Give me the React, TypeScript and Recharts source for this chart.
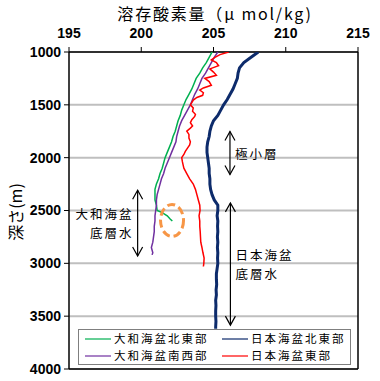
import React from 'react';
import { CartesianGrid, ReferenceDot, ReferenceLine, Scatter, ScatterChart, XAxis, YAxis } from 'recharts';

// 溶存酸素量の鉛直プロファイル (値は図から読み取り)
const depthGreen = [
    1000, 1050, 1100, 1150, 1200, 1250, 1300, 1350, 1400, 1450, 1500, 1550, 1600, 1650, 1700, 1750,
    1800, 1850, 1900, 1950, 2000, 2050, 2100, 2150, 2200, 2250, 2300, 2350, 2400, 2450, 2500, 2520,
    2550, 2580, 2600,
];
const valueGreen = [
    204.9, 204.7, 204.5, 204.25, 204.05, 203.8, 203.65, 203.5, 203.3, 203.1, 202.95, 202.8, 202.7,
    202.55, 202.45, 202.35, 202.2, 202.1, 201.95, 201.8, 201.65, 201.55, 201.45, 201.3, 201.2, 201.05,
    200.95, 200.95, 200.95, 201.05, 201.1, 201.45, 201.8, 202.0, 202.15,
];

const depthPurple = [
    1000, 1050, 1100, 1150, 1200, 1250, 1300, 1350, 1400, 1450, 1500, 1550, 1600, 1650, 1700, 1750,
    1800, 1850, 1900, 1950, 2000, 2050, 2100, 2150, 2200, 2250, 2300, 2350, 2400, 2450, 2500, 2550,
    2600, 2650, 2700, 2750, 2800, 2850, 2900, 2920,
];
const valuePurple = [
    205.3, 205.05, 204.85, 204.65, 204.45, 204.2, 204.05, 203.9, 203.7, 203.55, 203.4, 203.2, 203.0,
    202.8, 202.65, 202.55, 202.45, 202.4, 202.25, 202.1, 201.95, 201.8, 201.65, 201.55, 201.4, 201.3,
    201.2, 201.1, 201.05, 201.05, 201.0, 200.95, 200.95, 200.9, 200.9, 200.85, 200.8, 200.7, 200.8,
    200.75,
];

const depthRed = [
    1000, 1025, 1050, 1075, 1100, 1130, 1160, 1190, 1220, 1250, 1280, 1315, 1340, 1360, 1385, 1410,
    1430, 1455, 1480, 1500, 1530, 1560, 1590, 1610, 1640, 1670, 1700, 1720, 1750, 1780, 1815, 1850,
    1880, 1910, 1940, 1970, 2000, 2040, 2070, 2100, 2150, 2200, 2250, 2300, 2350, 2400, 2450, 2500,
    2550, 2600, 2650, 2700, 2750, 2800, 2850, 2900, 2950, 3000, 3030,
];
const valueRed = [
    206.05, 205.45, 205.1, 204.85, 205.2, 205.35, 204.75, 205.0, 205.2, 204.4, 204.7, 204.85, 204.3,
    204.05, 204.3, 204.25, 203.85, 203.6, 203.5, 203.4, 203.6, 203.55, 203.75, 203.7, 203.5, 203.4,
    203.55, 203.4, 203.15, 203.3, 203.3, 203.4, 203.35, 203.2, 203.05, 202.95, 202.8, 202.85, 202.9,
    202.95, 203.15, 203.35, 203.6, 203.75, 203.85, 203.95, 204.05, 204.07, 204.0, 204.05, 204.05,
    204.08, 204.1, 204.12, 204.2, 204.27, 204.35, 204.33, 204.3,
];

const depthNavy = [
    1000, 1050, 1100, 1150, 1200, 1250, 1300, 1350, 1400, 1450, 1500, 1550, 1600, 1650, 1700, 1750,
    1800, 1850, 1900, 1950, 2000, 2050, 2100, 2150, 2200, 2250, 2300, 2350, 2400, 2450, 2500, 2550,
    2600, 2650, 2700, 2750, 2800, 2850, 2900, 2950, 3000, 3050, 3100, 3150, 3200, 3250, 3300, 3350,
    3400, 3450, 3500, 3550, 3600, 3620,
];
const valueNavy = [
    208.1, 207.6, 207.1, 206.8, 206.7, 206.65, 206.5, 206.35, 206.15, 205.95, 205.7, 205.5, 205.3,
    205.0, 204.85, 204.75, 204.7, 204.6, 204.55, 204.55, 204.6, 204.65, 204.7, 204.7, 204.75, 204.75,
    204.8, 204.9, 205.05, 205.3, 205.3, 205.25, 205.3, 205.28, 205.3, 205.27, 205.3, 205.27, 205.3,
    205.28, 205.3, 205.25, 205.2, 205.2, 205.22, 205.18, 205.2, 205.15, 205.17, 205.15, 205.15,
    205.17, 205.15, 205.15,
];

const xTicks = [195, 200, 205, 210, 215];
const yTicks = [1000, 1500, 2000, 2500, 3000, 3500, 4000];

const series = [
    { name: '大和海盆北東部', color: '#00b050', width: 1.5, depths: depthGreen, values: valueGreen },
    { name: '大和海盆南西部', color: '#7030a0', width: 1.5, depths: depthPurple, values: valuePurple },
    { name: '日本海盆東部', color: '#ff0000', width: 1.5, depths: depthRed, values: valueRed },
    { name: '日本海盆北東部', color: '#0d2b6b', width: 3, depths: depthNavy, values: valueNavy },
];

const legendOrder = ['大和海盆北東部', '日本海盆北東部', '大和海盆南西部', '日本海盆東部'];

const cjk = '"Noto Sans CJK JP", "Noto Sans", sans-serif';
const tickStyle = { fontFamily: '"Liberation Sans", Arial, sans-serif', fontSize: 14, fontWeight: 700, fill: '#000' };

const emptyShape = () => <g />;

function ArrowShape(props: any) {
    const { x1, y1, y2, labels, side } = props;
    const x = x1;
    const mid = (y1 + y2) / 2;
    const tx = side === 'right' ? x + 5 : x - 4;
    const offsets = labels.length === 1 ? [0] : [-9.3, 9.3];
    return (
        <g>
            <line x1={x} y1={y1} x2={x} y2={y2} stroke="#000" strokeWidth={1.2} />
            <polyline points={`${x - 5},${y1 + 9} ${x},${y1} ${x + 5},${y1 + 9}`} fill="none" stroke="#000" strokeWidth={1.2} />
            <polyline points={`${x - 5},${y2 - 9} ${x},${y2} ${x + 5},${y2 - 9}`} fill="none" stroke="#000" strokeWidth={1.2} />
            {labels.map((t: string, i: number) => (
                <text
                    key={t}
                    x={tx}
                    y={mid + offsets[i]}
                    textAnchor={side === 'right' ? 'start' : 'end'}
                    dominantBaseline="central"
                    fontFamily={cjk}
                    fontSize={12.5}
                    letterSpacing={2}
                    fill="#000"
                >
                    {t}
                </text>
            ))}
        </g>
    );
}

function EllipseShape(props: any) {
    const { cx, cy } = props;
    return <ellipse cx={cx} cy={cy} rx={11.5} ry={16} fill="none" stroke="#f79646" strokeWidth={3} strokeDasharray="8 4" />;
}

export default function App() {
    return (
        <div style={{ position: 'absolute', left: 0, top: 0, width: 380, height: 381, background: '#fff' }}>
            <div
                style={{
                    position: 'absolute',
                    left: 105,
                    top: 2,
                    width: 220,
                    height: 22,
                    lineHeight: '22px',
                    textAlign: 'center',
                    fontFamily: cjk,
                    fontSize: 16,
                    letterSpacing: 1.8,
                    color: '#000',
                    whiteSpace: 'nowrap',
                }}
            >
                溶存酸素量（μ mol/kg)
            </div>
            <div
                style={{
                    position: 'absolute',
                    left: -25,
                    top: 202,
                    width: 80,
                    height: 20,
                    lineHeight: '20px',
                    textAlign: 'center',
                    fontFamily: cjk,
                    fontSize: 16,
                    color: '#000',
                    transform: 'rotate(-90deg)',
                }}
            >
                深さ(m)
            </div>
            <ScatterChart width={380} height={381} margin={{ top: 22, right: 22, bottom: 12, left: 0 }}>
                <CartesianGrid vertical={false} stroke="#bfbfbf" strokeWidth={2} />
                <XAxis
                    type="number"
                    dataKey="x"
                    orientation="top"
                    domain={[195, 215]}
                    ticks={xTicks}
                    height={30}
                    tick={tickStyle}
                    tickSize={5}
                    tickMargin={9}
                    stroke="#000"
                    axisLine={{ stroke: '#000', strokeWidth: 1.5 }}
                    allowDataOverflow
                />
                <YAxis
                    type="number"
                    dataKey="y"
                    domain={[1000, 4000]}
                    reversed
                    ticks={yTicks}
                    width={69}
                    tick={tickStyle}
                    tickSize={5}
                    tickMargin={3}
                    stroke="#000"
                    axisLine={{ stroke: '#000', strokeWidth: 1.5 }}
                    allowDataOverflow
                />
                <ReferenceLine x={215} stroke="#000" strokeWidth={1.5} />
                <ReferenceLine y={4000} stroke="#000" strokeWidth={1.5} />
                {series.map((s) => (
                    <Scatter
                        key={s.name}
                        name={s.name}
                        data={s.depths.map((d, i) => ({ x: s.values[i], y: d }))}
                        fill={s.color}
                        line={{ stroke: s.color, strokeWidth: s.width, fill: 'none' }}
                        shape={emptyShape}
                        isAnimationActive={false}
                    />
                ))}
                <ReferenceLine
                    segment={[{ x: 206.14, y: 1752 }, { x: 206.14, y: 2160 }]}
                    shape={(p: any) => <ArrowShape {...p} labels={['極小層']} side="right" />}
                />
                <ReferenceLine
                    segment={[{ x: 199.75, y: 2308 }, { x: 199.75, y: 2931 }]}
                    shape={(p: any) => <ArrowShape {...p} labels={['大和海盆', '底層水']} side="left" />}
                />
                <ReferenceLine
                    segment={[{ x: 206.17, y: 2428 }, { x: 206.17, y: 3585 }]}
                    shape={(p: any) => <ArrowShape {...p} labels={['日本海盆', '底層水']} side="right" />}
                />
                <ReferenceDot x={202.13} y={2594} shape={(p: any) => <EllipseShape {...p} />} />
            </ScatterChart>
            <div
                style={{
                    position: 'absolute',
                    left: 78,
                    top: 329,
                    width: 273,
                    height: 36,
                    boxSizing: 'border-box',
                    border: '1px solid #7f7f7f',
                    background: '#fff',
                    fontFamily: cjk,
                    fontSize: 11.5,
                    letterSpacing: 2,
                    color: '#000',
                }}
            >
                {legendOrder.map((name, i) => {
                    const s = series.find((item) => item.name === name)!;
                    const col = i % 2;
                    const row = Math.floor(i / 2);
                    const left = col === 0 ? 6 : 143;
                    const top = row === 0 ? 0 : 17;
                    return (
                        <div key={name} style={{ position: 'absolute', left, top, height: 17, display: 'flex', alignItems: 'center', whiteSpace: 'nowrap' }}>
                            <svg width={26} height={4} style={{ marginRight: 3 }}>
                                <line x1={0} y1={2} x2={26} y2={2} stroke={s.color} strokeWidth={1.2} />
                            </svg>
                            <span style={{ lineHeight: '17px' }}>{name}</span>
                        </div>
                    );
                })}
            </div>
        </div>
    );
}
